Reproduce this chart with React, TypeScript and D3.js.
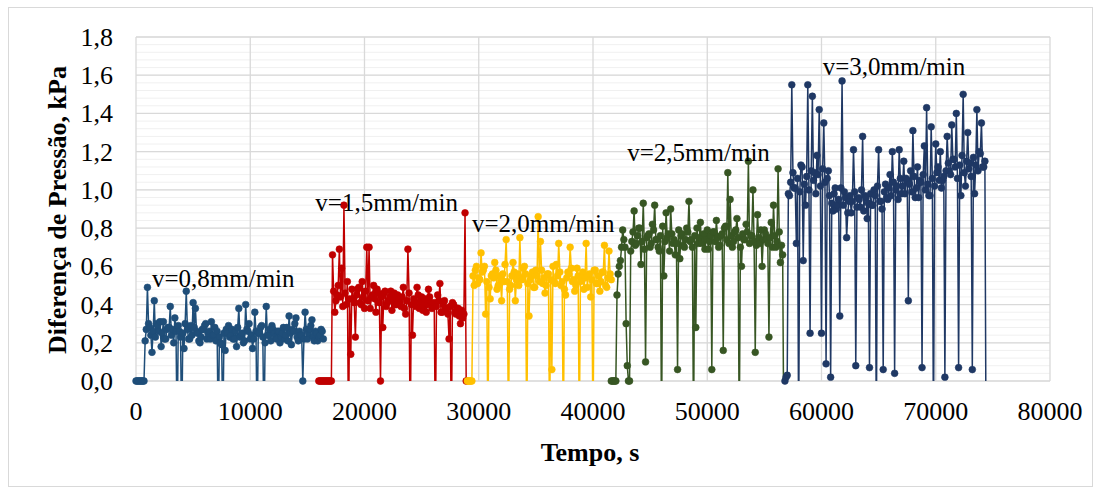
import React from 'react';
import * as d3 from 'd3';

// sample interval (s) of the logged pressure differences
const STEP = 100;

// start time (s) of each velocity stage
const starts = [0, 16000, 29000, 41600, 56800];
const labels = ['v=0,8mm/min', 'v=1,5mm/min', 'v=2,0mm/min', 'v=2,5mm/min', 'v=3,0mm/min'];
const colors = ['#1F4E79', '#C00000', '#FFC000', '#375623', '#1F3864'];
const labelAt = [[1400, 0.49], [15700, 0.89], [29400, 0.78], [43000, 1.15], [60100, 1.60]];

// negative values are sensor drop-outs, cut off by the axis minimum
const v08 = [0, 0, 0, 0, 0, 0, 0, 0,
  0.21, 0.27, 0.49, 0.30, 0.28, 0.24, 0.15, 0.26, 0.42, 0.23, 0.30, 0.29,
  0.26, 0.31, 0.18, 0.25, 0.31, 0.22, 0.22, 0.27, 0.28, 0.28, 0.39, 0.24, 0.27, 0.20, 0.33, 0.26, -0.3, 0.29, 0.26, 0.23,
  -0.3, 0.25, 0.17, 0.30, 0.47, 0.27, 0.22, 0.22, 0.29, 0.24, 0.41, 0.28, 0.38, 0.26, 0.25, 0.21, 0.20, 0.23, 0.27, 0.27,
  0.29, 0.30, 0.22, 0.25, 0.26, 0.22, 0.31, 0.24, 0.24, 0.28, 0.21, 0.26, -0.3, 0.23, 0.20, 0.19, -0.3, 0.25, 0.16, 0.27,
  0.25, 0.29, 0.23, 0.24, 0.27, 0.22, 0.22, 0.26, 0.18, 0.28, 0.38, 0.23, 0.24, 0.25, 0.20, 0.21, 0.40, 0.27, 0.26, 0.30,
  0.22, 0.24, 0.17, 0.22, 0.36, 0.26, -0.3, 0.25, 0.25, 0.28, 0.29, 0.23, -0.3, 0.20, 0.39, 0.24, 0.24, 0.27, 0.21, 0.29,
  0.27, 0.25, 0.23, 0.22, 0.26, 0.26, 0.20, 0.23, 0.25, 0.28, 0.22, 0.24, 0.28, 0.21, 0.34, 0.25, 0.19, 0.27, 0.26, 0.30,
  0.33, 0.23, 0.21, 0.26, 0.24, 0.24, 0, 0.22, 0.36, 0.27, 0.22, 0.25, 0.27, 0.29, 0.32, 0.23, 0.21, 0.26, 0.25, 0.21,
  0.23, 0.24, 0.27, 0.26, 0.22];

const v15 = [0, 0, 0, 0, 0, 0, 0, 0, 0, 0, 0, 0,
  0.66, 0.47, 0.36, 0.42, 0.45, 0.50, 0.69, 0.44,
  0.59, 0.39, 0.92, 0.46, 0.40, 0.52, -0.3, 0.43, 0.14, 0.48, 0.43, 0.41, 0.23, 0.45, 0.48, 0.49, 0.41, 0.40, 0.52, 0.44,
  0.38, 0.47, 0.70, 0.42, 0.70, 0.38, 0.44, 0.45, 0.50, 0.43, 0.36, 0.48, 0.46, 0.41, 0, 0.44, 0.28, 0.46, 0.47, 0.39,
  0.41, 0.42, 0.44, 0.47, 0.37, 0.43, 0.46, 0.40, 0.40, 0.45, 0.43, 0.41, 0.39, 0.44, 0.49, 0.38, 0.35, 0.42, 0.69, 0.46,
  -0.3, 0.40, 0.24, 0.43, 0.42, 0.39, 0.49, 0.45, 0.38, 0.41, 0.44, 0.37, 0.40, 0.43, 0.36, 0.40, 0.48, 0.44, 0.41, 0.38,
  0.39, 0.41, -0.3, 0.39, 0.45, 0.42, 0.51, 0.36, 0.36, 0.40, 0.42, 0.38, 0.38, 0.35, 0.22, 0.39, -0.3, 0.41, 0.40, 0.36,
  0.35, 0.38, 0.38, 0.34, 0.30, 0.37, 0.33, 0.35, 0.88, 0];

const v20 = [0, 0, 0, 0, 0, 0.55,
  0.50, 0.58, 0.60, 0.51, 0.54, 0.53, 0.67, 0.57, 0.58, 0.60, 0.35, 0.52, -0.3, 0.49,
  0.43, 0.55, 0.56, 0.54, 0.62, 0.58, 0.48, 0.50, 0.55, 0.53, 0.42, 0.56, 0.52, 0.61, 0.74, 0.52, -0.3, 0.48, 0.50, 0.55,
  0.62, 0.57, 0.42, 0.53, 0.56, 0.50, 0.75, 0.54, 0.53, 0.59, 0.60, 0.56, -0.3, 0.51, 0.34, 0.53, 0.55, 0.57, 0.49, 0.49,
  0.58, 0.55, 0.86, 0.52, 0.73, 0.58, 0.51, 0.54, 0.46, 0.50, 0.56, 0.56, -0.3, 0.53, 0.06, 0.60, 0.52, 0.51, 0.61, 0.55,
  0.72, 0.57, 0.50, 0.52, -0.3, 0.48, 0.45, 0.54, 0.57, 0.56, 0.70, 0.59, 0.52, 0.53, 0.47, 0.50, 0.59, 0.55, -0.3, 0.52,
  0.54, 0.57, 0.48, 0.54, 0.72, 0.49, 0.55, 0.56, 0.44, 0.53, -0.3, 0.58, 0.58, 0.51, 0.51, 0.55, 0.47, 0.52, 0.57, 0.57,
  0.71, 0.50, 0.49, 0.54, 0.68, 0.56, 0.53];

const v25 = [0, 0, 0, 0, 0, 0.45, 0.56, 0.60, 0.63, 0.70, 0.79, 0.74, 0.70, 0.30, 0.08, 0, 0, 0.68, 0.73, 0.78,
  0.89, 0.71, 0.72, 0.76, 0.80, 0.80, 0.61, 0.73, 0.93, 0.69, 0.10, 0.75, 0.76, 0.77, 0.70, 0.72, 0.82, 0.79, 0.92, 0.74,
  0.74, 0.70, 0.68, 0.76, -0.3, 0.81, 0.55, 0.73, 0.88, 0.75, 0.77, 0.68, 0.90, 0.77, 0.72, 0.74, 0.66, 0.72, 0.06, 0.79,
  0.64, 0.76, 0.77, 0.71, 0.70, 0.74, 0.80, 0.78, 0.94, 0.73, 0.74, 0.70, -0.3, 0.76, 0.28, 0.80, 0.72, 0.75, 0.83, 0.72,
  0.76, 0.77, 0.69, 0.74, 0.79, 0.69, 0.73, 0.76, 0.06, 0.78, 0.78, 0.73, 0.84, 0.75, 0.70, 0.71, 0.76, 0.77, 0.16, 0.80,
  0.81, 0.74, 1.09, 0.72, 0.95, 0.76, 0.70, 0.73, 0.78, 0.79, 0.85, 0.75, -0.3, 0.70, 0.60, 0.77, 0.74, 0.74, 0.82, 0.78,
  1.15, 0.72, 0.76, 0.76, 1.00, 0.73, 0.15, 0.71, 0.87, 0.75, 0.72, 0.79, 0.60, 0.74, 0.79, 0.77, 0.74, 0.72, 0.23, 0.75,
  0.83, 0.70, 0.92, 0.76, 0.70, 0.73, 1.11, 0.78, 0.62, 0.71, 0.66, -0.3];

const v30 = [0, 0.02, 0.03, 0.98, 0.97, 1.04, 1.55, 1.09, 1.01, 1.01, 0.72, 1.06, -0.3, 0.99, 1.13, 1.12, 0.63, 1.03, 0.92, 1.07,
  1.55, 1.00, 0.25, 1.10, 1.49, 1.05, 1.09, 0.98, 1.18, 1.08, 1.42, 1.02, 0.25, 1.11, 1.35, 1.04, 0.09, 1.06, 1.10, 0.97,
  0.02, 0.93, 0.89, 0.98, 1.01, 0.90, 0.92, 0.95, 0.34, 1.01, 1.57, 0.92, 0.99, 0.96, 0.75, 0.88, 0.94, 0.97, 0.88, 0.94,
  1.21, 0.99, 0.08, 0.91, 0.96, 0.95, 0.91, 1.00, 1.28, 0.89, 0.97, 0.96, 0.85, 0.93, 0.07, 0.98, 0.92, 0.92, 1.00, 0.97,
  -0.3, 1.02, 1.21, 0.94, 0.94, 0.90, 0.06, 0.99, 1.03, 0.96, 0.95, 1.01, 1.08, 0.97, 1.20, 1.04, 0.04, 1.00, 1.02, 0.95,
  1.21, 1.06, 0.98, 1.02, 1.15, 0.98, 1.06, 1.05, 0.42, 1.03, 1.10, 0.99, 1.31, 1.07, 0.96, 1.01, 1.12, 0.96, 1.05, 1.04,
  0.07, 1.08, 1.23, 1.00, 1.43, 1.03, 0.97, 0.97, 1.33, 1.06, -0.3, 1.02, 1.24, 1.09, 1.12, 1.05, 1.20, 1.01, 1.05, 1.07,
  0.02, 1.10, 1.28, 1.14, 1.10, 1.08, 1.34, 1.16, 1.16, 1.12, 1.40, 1.06, 0.07, 1.13, 0.97, 1.18, 1.50, 1.09, 1.02, 1.15,
  1.30, 1.11, 1.14, 1.07, 0.06, 1.17, 0.98, 1.13, 1.42, 1.10, 1.20, 1.19, 1.35, 1.12, 1.12, 1.15, -0.3];

const series = [v08, v15, v20, v25, v30];

const xTicks = [0, 10000, 20000, 30000, 40000, 50000, 60000, 70000, 80000];
const yTicks = [0, 0.2, 0.4, 0.6, 0.8, 1.0, 1.2, 1.4, 1.6, 1.8];

const FONT = '"Liberation Serif", "Times New Roman", serif';

export default function App() {
  const x = d3.scaleLinear().domain([0, 80000]).range([136, 1050]);
  const y = d3.scaleLinear().domain([0, 1.8]).range([381, 37]);
  const fmt = (v: number) => d3.format('.1f')(v).replace('.', ',');
  const minor = d3.range(0, 1.8001, 0.04);

  const line = d3.line<[number, number]>()
    .x(d => x(d[0]))
    .y(d => y(d[1]));

  return (
    <svg width={1101} height={495} style={{ position: 'absolute', left: 0, top: 0 }}>
      <defs>
        <clipPath id="plot">
          <rect x={0} y={0} width={1101} height={381} />
        </clipPath>
      </defs>
      <rect x={8.5} y={7.5} width={1084} height={479} fill="#fff" stroke="#d9d9d9" />

      {minor.map((m, i) => (
        <line key={'m' + i} x1={136} x2={1050} y1={y(m)} y2={y(m)} stroke="#f0f0f0" strokeWidth={1} />
      ))}
      {yTicks.map(t => (
        <line key={'y' + t} x1={136} x2={1050} y1={y(t)} y2={y(t)} stroke="#d9d9d9" strokeWidth={1.3} />
      ))}
      {xTicks.map(t => (
        <line key={'x' + t} x1={x(t)} x2={x(t)} y1={37} y2={381} stroke="#d9d9d9" strokeWidth={1.3} />
      ))}

      {series.map((vals, s) => {
        const pts: [number, number][] = vals.map((v, i) => [starts[s] + i * STEP, v]);
        return (
          <g key={s}>
            <path d={line(pts) || ''} fill="none" stroke={colors[s]} strokeWidth={1.5}
              strokeLinejoin="round" clipPath="url(#plot)" />
            {pts.filter(p => p[1] >= 0).map((p, i) => (
              <circle key={i} cx={x(p[0])} cy={y(p[1])} r={3.4} fill={colors[s]} stroke={colors[s]} strokeWidth={0.6} />
            ))}
          </g>
        );
      })}

      {labels.map((l, s) => (
        <text key={l} x={x(labelAt[s][0])} y={y(labelAt[s][1])} fontFamily={FONT} fontSize={25} fill="#000">{l}</text>
      ))}

      {yTicks.map(t => (
        <text key={'yl' + t} x={113} y={y(t) + 9} textAnchor="end" fontFamily={FONT} fontSize={26} fill="#000">{fmt(t)}</text>
      ))}
      {xTicks.map(t => (
        <text key={'xl' + t} x={x(t)} y={420} textAnchor="middle" fontFamily={FONT} fontSize={26} fill="#000">{t}</text>
      ))}

      <text transform="translate(66,210) rotate(-90)" textAnchor="middle" fontFamily={FONT}
        fontSize={26} fontWeight="bold" fill="#000">Diferença de Pressão, kPa</text>
      <text x={590} y={461} textAnchor="middle" fontFamily={FONT} fontSize={26} fontWeight="bold" fill="#000">Tempo, s</text>
    </svg>
  );
}
